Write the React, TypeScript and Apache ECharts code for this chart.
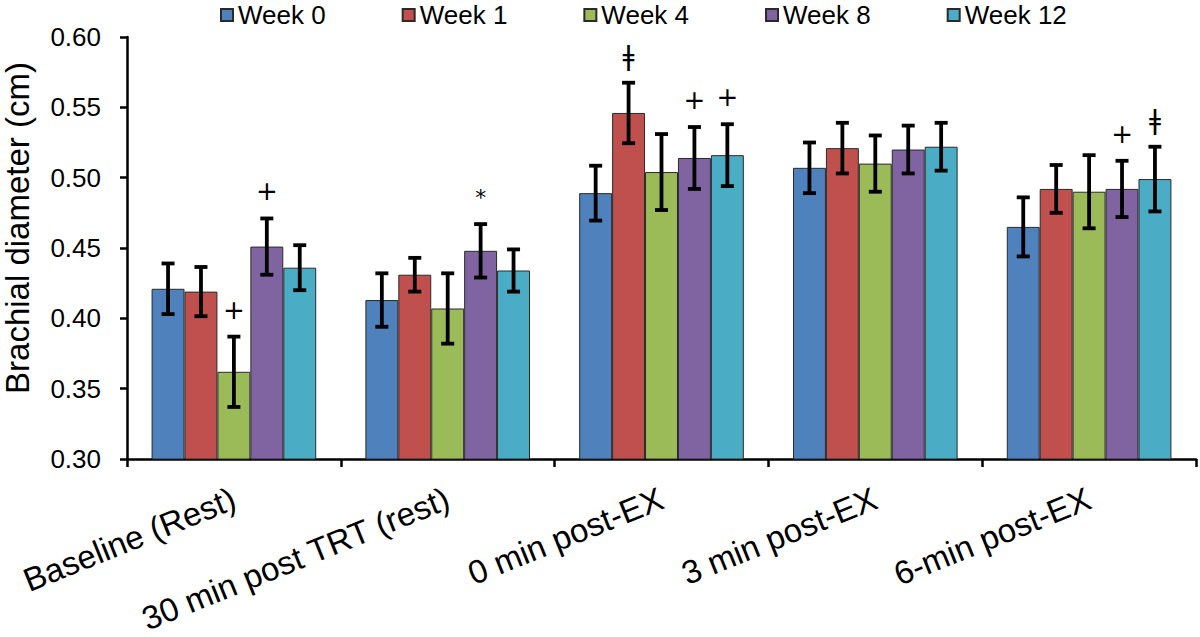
import React, { useEffect, useRef } from "react";
import * as echarts from "echarts";

const categories = ["Baseline (Rest)", "30 min post TRT (rest)", "0 min post-EX", "3 min post-EX", "6-min post-EX"];
const weekNames = ["Week 0", "Week 1", "Week 4", "Week 8", "Week 12"];
const colors = ["#4F81BD", "#C0504D", "#9BBB59", "#8064A2", "#4BACC6"];

const week0 = [0.421, 0.413, 0.489, 0.507, 0.465];
const week1 = [0.419, 0.431, 0.546, 0.521, 0.492];
const week4 = [0.362, 0.407, 0.504, 0.510, 0.490];
const week8 = [0.451, 0.448, 0.514, 0.520, 0.492];
const week12 = [0.436, 0.434, 0.516, 0.522, 0.499];

const week0Err = [0.018, 0.019, 0.0195, 0.018, 0.021];
const week1Err = [0.0175, 0.012, 0.0215, 0.018, 0.017];
const week4Err = [0.025, 0.025, 0.027, 0.020, 0.026];
const week8Err = [0.020, 0.019, 0.022, 0.017, 0.020];
const week12Err = [0.016, 0.015, 0.022, 0.017, 0.023];

const week0Note = ["", "", "", "", ""];
const week1Note = ["", "", "ǂ", "", ""];
const week4Note = ["+", "", "", "", ""];
const week8Note = ["+", "*", "+", "", "+"];
const week12Note = ["", "", "+", "", "ǂ"];

const yTicks = { min: 0.3, max: 0.6, interval: 0.05 };
const yTitle = "Brachial diameter (cm)";

const values = [week0, week1, week4, week8, week12];
const errs = [week0Err, week1Err, week4Err, week8Err, week12Err];
const notes = [week0Note, week1Note, week4Note, week8Note, week12Note];

const FONT = "'Liberation Sans', Arial, Helvetica, sans-serif";
const CAT_GAP = 0.23;

export default function App() {
  const ref = useRef<HTMLDivElement>(null);
  useEffect(() => {
    if (!ref.current) return;
    const chart = echarts.init(ref.current, null, { renderer: "svg" });

    const errData: any[] = [];
    values.forEach((arr, s) => {
      arr.forEach((v, c) => {
        errData.push([c, s, v, errs[s][c], notes[s][c]]);
      });
    });

    const barSeries = weekNames.map((name, i) => ({
      name,
      type: "bar",
      data: values[i],
      barGap: "0%",
      barCategoryGap: CAT_GAP * 100 + "%",
      itemStyle: { color: colors[i], borderColor: "#2a2a2a", borderWidth: 1 },
    }));

    const option: any = {
      animation: false,
      textStyle: { fontFamily: FONT },
      legend: {
        data: weekNames.map((n) => ({ name: n, icon: "rect" })),
        left: 220,
        top: 2,
        padding: 0,
        itemWidth: 12,
        itemHeight: 12,
        itemGap: 76,
        textStyle: { fontSize: 26, color: "#000", fontFamily: FONT, width: 92 },
      },
      grid: { left: 127, right: 4, top: 37, bottom: 178, containLabel: false },
      graphic: [
        {
          type: "text",
          x: 17,
          y: 228,
          rotation: Math.PI / 2,
          style: {
            text: yTitle,
            fontSize: 33,
            fontFamily: FONT,
            fill: "#000",
            align: "center",
            verticalAlign: "middle",
          },
        },
      ],
      xAxis: {
        type: "category",
        data: categories,
        axisLine: { lineStyle: { color: "#000", width: 2.5 } },
        axisTick: { show: true, alignWithLabel: false, length: 8, lineStyle: { color: "#000", width: 2.5 } },
        axisLabel: { rotate: 22, fontSize: 33, color: "#000", margin: 38, fontFamily: FONT, interval: 0 },
      },
      yAxis: {
        type: "value",
        min: yTicks.min,
        max: yTicks.max,
        interval: yTicks.interval,
        axisLine: { show: true, lineStyle: { color: "#000", width: 2.5 } },
        axisTick: { show: true, length: 7, lineStyle: { color: "#000", width: 2.5 } },
        splitLine: { show: false },
        axisLabel: {
          fontSize: 26,
          color: "#000",
          margin: 26,
          fontFamily: FONT,
          formatter: (v: number) => v.toFixed(2),
        },
      },
      series: [
        ...barSeries,
        {
          type: "custom",
          name: "errors",
          data: errData,
          encode: { x: 0, y: 2 },
          z: 10,
          renderItem: (params: any, api: any) => {
            const c = api.value(0);
            const s = api.value(1);
            const v = api.value(2);
            const e = api.value(3);
            const note = errData[params.dataIndex][4];
            const band = api.size([1, 0])[0];
            const barW = (band * (1 - CAT_GAP)) / 5;
            const center = api.coord([c, v]);
            const x = center[0] + (s - 2) * barW;
            const yTop = api.coord([c, v + e])[1];
            const yBot = api.coord([c, v - e])[1];
            const cap = 6.5;
            const ls = { stroke: "#000", lineWidth: 3.8 };
            const children: any[] = [
              { type: "line", shape: { x1: x, y1: yTop, x2: x, y2: yBot }, style: ls },
              { type: "line", shape: { x1: x - cap, y1: yTop, x2: x + cap, y2: yTop }, style: ls },
              { type: "line", shape: { x1: x - cap, y1: yBot, x2: x + cap, y2: yBot }, style: ls },
            ];
            if (note) {
              children.push({
                type: "text",
                style: {
                  x: x,
                  y: yTop - 27,
                  text: note,
                  fill: "#000",
                  fontSize: note === "*" ? 22 : 26,
                  fontFamily: "'DejaVu Sans', " + FONT,
                  align: "center",
                  verticalAlign: "middle",
                },
              });
            }
            return { type: "group", children };
          },
        },
      ],
    };
    chart.setOption(option);
    return () => chart.dispose();
  }, []);

  return (
    <div
      ref={ref}
      style={{ position: "fixed", left: 0, top: 0, width: 1200, height: 637, background: "#fff" }}
    />
  );
}
